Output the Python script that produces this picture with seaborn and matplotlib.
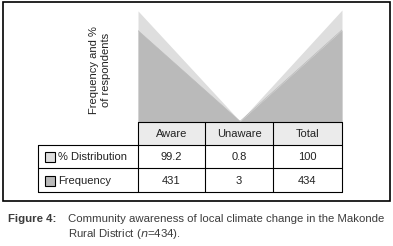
import seaborn as sns
import matplotlib.pyplot as plt
import pandas as pd
from matplotlib.patches import Rectangle

categories = ["Aware", "Unaware", "Total"]
pct_distribution = [99.2, 0.8, 100]
frequency = [431, 3, 434]
pct_labels = ["99.2", "0.8", "100"]
freq_labels = ["431", "3", "434"]
series_names = ["% Distribution", "Frequency"]

df = pd.DataFrame({"category": categories, "pos": range(len(categories)),
                   "pct": pct_distribution, "freq": frequency})

sns.set_theme(style="white")
plt.rcParams["font.family"] = ["Liberation Sans Narrow", "Liberation Sans", "DejaVu Sans"]

light = "#dedede"
dark = "#bababa"
txt = "#222222"

fig = plt.figure(figsize=(3.93, 2.46), dpi=100)

# area chart (two overlapping series on their own scales)
W, H = 393, 246
ax = fig.add_axes([138 / W, 1 - 122 / H, (342 - 138) / W, (122 - 10) / H])
ax.fill_between(df["pos"], df["pct"], color=light, linewidth=0)
ax.set_ylim(0, 100)
ax.set_xlim(0, 2)
ax2 = ax.twinx()
ax2.fill_between(df["pos"], df["freq"], color=dark, linewidth=0)
sns.lineplot(data=df, x="pos", y="freq", ax=ax2, color=dark, linewidth=0.5)
ax2.set_ylim(0, 528)
for a in (ax, ax2):
    a.set_axis_off()

fig.text(100 / W, 1 - 70 / H, "Frequency and %\nof respondents", rotation=90,
         ha="center", va="center", fontsize=8, color=txt, linespacing=1.15)

# overlay in pixel coordinates for table, frame and caption
ov = fig.add_axes([0, 0, 1, 1])
ov.set_xlim(0, W)
ov.set_ylim(H, 0)
ov.set_axis_off()
ov.patch.set_alpha(0)

ov.add_patch(Rectangle((3, 2), 387, 199, fill=False, edgecolor="black", linewidth=1.2))

col_x = [138, 205, 273, 342]
row_y = [122, 145, 168, 192]
lw = 0.8
for i in range(3):
    ov.add_patch(Rectangle((col_x[i], row_y[0]), col_x[i + 1] - col_x[i], row_y[1] - row_y[0],
                           facecolor="#ebebeb", edgecolor="none"))
ov.plot([138, 342], [122, 122], color="black", lw=lw)
for y in row_y[1:]:
    ov.plot([38, 342], [y, y], color="black", lw=lw)
for x in col_x:
    ov.plot([x, x], [122, 192], color="black", lw=lw)
ov.plot([38, 38], [145, 192], color="black", lw=lw)

for i, c in enumerate(categories):
    cx = (col_x[i] + col_x[i + 1]) / 2
    ov.text(cx, 134, c, ha="center", va="center", fontsize=8, color=txt)
    ov.text(cx, 157, pct_labels[i], ha="center", va="center", fontsize=8, color=txt)
    ov.text(cx, 180.5, freq_labels[i], ha="center", va="center", fontsize=8, color=txt)

for j, (name, col) in enumerate(zip(series_names, [light, dark])):
    yc = 157 if j == 0 else 180.5
    ov.add_patch(Rectangle((45, yc - 5), 10, 10, facecolor=col, edgecolor="black", linewidth=0.8))
    ov.text(58, yc, name, ha="left", va="center", fontsize=8, color=txt)

cap_col = "#3c3c3c"
ov.text(8, 219, "Figure 4:", ha="left", va="center", fontsize=8.2, fontweight="bold", color=cap_col)
ov.text(68, 219, "Community awareness of local climate change in the Makonde",
        ha="left", va="center", fontsize=8.2, color=cap_col)
ov.text(68, 234, "Rural District ($n$=434).", ha="left", va="center", fontsize=8.2, color=cap_col)

fig.savefig("out.png", dpi=100)
